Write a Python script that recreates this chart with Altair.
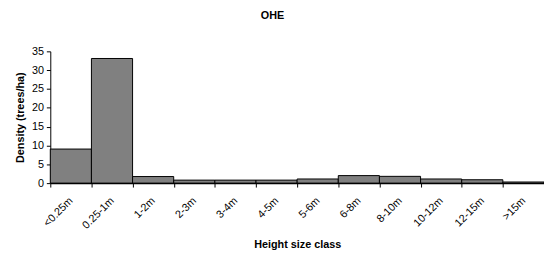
import altair as alt
import pandas as pd

categories = ["<0.25m", "0.25-1m", "1-2m", "2-3m", "3-4m", "4-5m", "5-6m",
              "6-8m", "8-10m", "10-12m", "12-15m", ">15m"]
density = [9.05, 33.1, 1.75, 0.8, 0.8, 0.8, 1.1, 2.0, 1.8, 1.1, 0.9, 0.3]

df = pd.DataFrame({"cls": categories, "density": density})

FONT = "Liberation Sans"

chart = alt.Chart(df).mark_bar(
    color="#808080", stroke="#000000", strokeWidth=1
).encode(
    x=alt.X("cls:N", sort=categories,
            scale=alt.Scale(paddingInner=0, paddingOuter=0),
            axis=alt.Axis(title="Height size class", labelAngle=-45,
                          labelAlign="right", labelBaseline="middle",
                          tickBand="extent", labelFontSize=11,
                          labelFont=FONT, labelColor="#000000",
                          titleFont=FONT, titleFontSize=11, titleFontWeight="bold",
                          titleColor="#000000", titlePadding=8,
                          domainColor="#000000", tickColor="#000000",
                          tickSize=4, labelPadding=12, domainWidth=1.5,
                          labelOverlap=False, labelBound=False)),
    y=alt.Y("density:Q",
            scale=alt.Scale(domain=[0, 35], nice=False),
            axis=alt.Axis(title="Density (trees/ha)", values=[0, 5, 10, 15, 20, 25, 30, 35],
                          grid=False, labelFontSize=11, labelFont=FONT,
                          labelColor="#000000", titleFont=FONT, titleFontSize=11,
                          titleFontWeight="bold", titleColor="#000000",
                          titlePadding=6, domainColor="#000000",
                          tickColor="#000000", tickSize=4, labelPadding=3)),
).properties(
    width=502, height=134,
    autosize=alt.AutoSizeParams(type="none"),
    padding={"left": 43, "top": 42, "right": 0, "bottom": 70},
    title=alt.TitleParams("OHE", font=FONT, fontSize=11, fontWeight="bold",
                          color="#000000", dx=-25, offset=25),
).configure_view(stroke=None)

chart.save("out.html", embed_options={"renderer": "svg", "actions": False})
